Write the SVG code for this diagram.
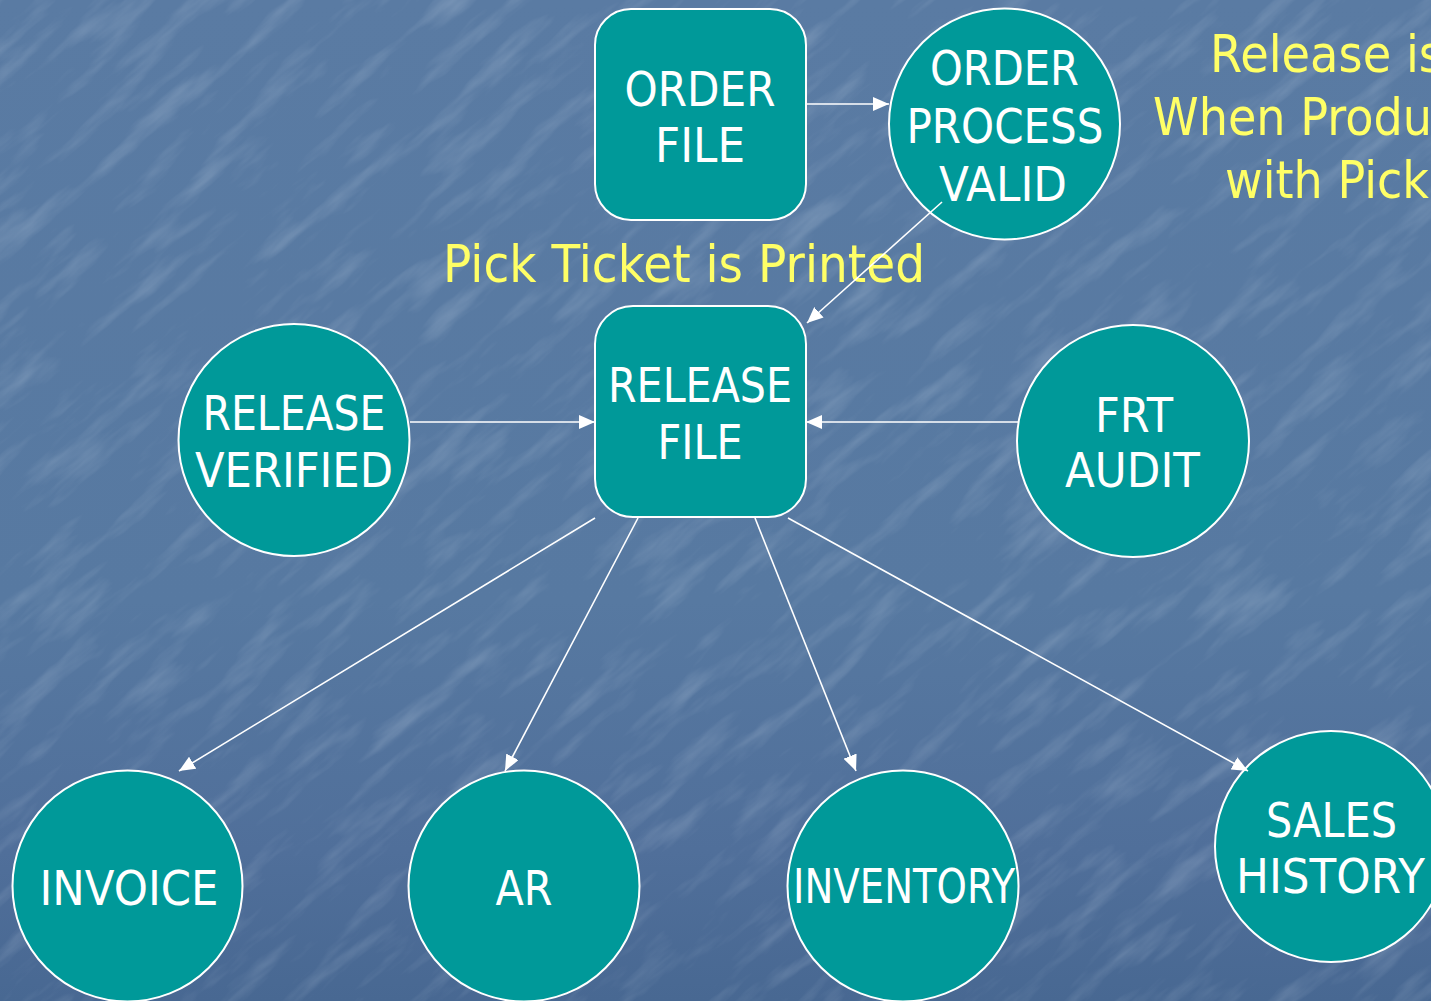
<svg xmlns="http://www.w3.org/2000/svg" width="1431" height="1001" viewBox="0 0 1431 1001">
  <defs>
    <linearGradient id="bg" x1="0" y1="0" x2="0" y2="1">
      <stop offset="0" stop-color="#5a7ba3"/>
      <stop offset="0.6" stop-color="#5779a1"/>
      <stop offset="0.85" stop-color="#506f9a"/>
      <stop offset="1" stop-color="#486892"/>
    </linearGradient>
    <!-- streaky stone texture for the backdrop -->
    <filter id="grain" x="0" y="0" width="100%" height="100%">
      <feTurbulence type="fractalNoise" baseFrequency="0.01 0.05" numOctaves="4" seed="7" result="n"/>
      <feColorMatrix in="n" type="matrix" values="0 0 0 0 0.78  0 0 0 0 0.86  0 0 0 0 0.95  0 0 0 2.0 -1.0"/>
    </filter>
    <marker id="arrow" viewBox="0 0 16 14" refX="16" refY="7" markerWidth="16" markerHeight="14" markerUnits="userSpaceOnUse" orient="auto">
      <path d="M0,0 L16,7 L0,14 Z" fill="#ffffff"/>
    </marker>
    <style>
      .node { fill: #009999; stroke: #ffffff; stroke-width: 2; }
      .lbl { font-family: "DejaVu Sans", "Liberation Sans", sans-serif; font-size: 48px; fill: #ffffff; text-anchor: middle; }
      .note { font-family: "DejaVu Sans", "Liberation Sans", sans-serif; font-size: 51px; fill: #ffff66; }
      .edge { stroke: #ffffff; stroke-width: 1.6; fill: none; marker-end: url(#arrow); }
    </style>
  </defs>

  <!-- backdrop -->
  <rect x="0" y="0" width="1431" height="1001" fill="url(#bg)"/>
  <g transform="rotate(-40 715 500)" opacity="0.22">
    <rect x="-400" y="-400" width="2300" height="1800" filter="url(#grain)"/>
  </g>

  <!-- annotations -->
  <g id="notes">
    <text class="note" x="443" y="282" textLength="482" lengthAdjust="spacingAndGlyphs">Pick Ticket is Printed</text>
    <text class="note" x="1210" y="72" textLength="233" lengthAdjust="spacingAndGlyphs">Release is</text>
    <text class="note" x="1153" y="135" textLength="279" lengthAdjust="spacingAndGlyphs">When Produ</text>
    <text class="note" x="1225" y="198" textLength="204" lengthAdjust="spacingAndGlyphs">with Pick</text>
  </g>

  <g id="order-file">
    <rect class="node" x="595" y="9" width="211" height="211" rx="36"/>
    <text class="lbl" x="700" y="106" textLength="151" lengthAdjust="spacingAndGlyphs">ORDER</text>
    <text class="lbl" x="700" y="162" textLength="90" lengthAdjust="spacingAndGlyphs">FILE</text>
  </g>

  <g id="order-process-valid">
    <ellipse class="node" cx="1004.5" cy="124" rx="115.5" ry="115.5"/>
    <text class="lbl" x="1004.5" y="85" textLength="149" lengthAdjust="spacingAndGlyphs">ORDER</text>
    <text class="lbl" x="1005" y="143" textLength="197" lengthAdjust="spacingAndGlyphs">PROCESS</text>
    <text class="lbl" x="1003" y="201" textLength="128" lengthAdjust="spacingAndGlyphs">VALID</text>
  </g>

  <g id="release-file">
    <rect class="node" x="595" y="306" width="211" height="211" rx="38"/>
    <text class="lbl" x="700" y="402" textLength="184" lengthAdjust="spacingAndGlyphs">RELEASE</text>
    <text class="lbl" x="700" y="459" textLength="85" lengthAdjust="spacingAndGlyphs">FILE</text>
  </g>

  <g id="release-verified">
    <ellipse class="node" cx="294" cy="440" rx="115.5" ry="116"/>
    <text class="lbl" x="294" y="430" textLength="183" lengthAdjust="spacingAndGlyphs">RELEASE</text>
    <text class="lbl" x="294" y="487" textLength="198" lengthAdjust="spacingAndGlyphs">VERIFIED</text>
  </g>

  <g id="frt-audit">
    <ellipse class="node" cx="1133" cy="441" rx="116" ry="116"/>
    <text class="lbl" x="1134" y="432" textLength="78" lengthAdjust="spacingAndGlyphs">FRT</text>
    <text class="lbl" x="1132.5" y="487" textLength="135" lengthAdjust="spacingAndGlyphs">AUDIT</text>
  </g>

  <g id="invoice">
    <ellipse class="node" cx="127.5" cy="886" rx="115" ry="115.5"/>
    <text class="lbl" x="129" y="905" textLength="179" lengthAdjust="spacingAndGlyphs">INVOICE</text>
  </g>

  <g id="ar">
    <ellipse class="node" cx="524" cy="886" rx="115.5" ry="115.5"/>
    <text class="lbl" x="524" y="905" textLength="57" lengthAdjust="spacingAndGlyphs">AR</text>
  </g>

  <g id="inventory">
    <ellipse class="node" cx="903" cy="886" rx="115.5" ry="115.5"/>
    <text class="lbl" x="904" y="903" textLength="222" lengthAdjust="spacingAndGlyphs">INVENTORY</text>
  </g>

  <g id="sales-history">
    <ellipse class="node" cx="1331" cy="846.5" rx="116" ry="115.5"/>
    <text class="lbl" x="1331.5" y="837" textLength="131" lengthAdjust="spacingAndGlyphs">SALES</text>
    <text class="lbl" x="1330.5" y="893" textLength="189" lengthAdjust="spacingAndGlyphs">HISTORY</text>
  </g>

  <!-- connectors, drawn over the nodes -->
  <g id="connectors">
    <line class="edge" x1="806" y1="104" x2="889" y2="104"/>
    <line class="edge" x1="942" y1="202" x2="807" y2="323"/>
    <line class="edge" x1="410" y1="422" x2="595" y2="422"/>
    <line class="edge" x1="1018" y1="422" x2="806" y2="422"/>
    <line class="edge" x1="595" y1="518" x2="179" y2="771"/>
    <line class="edge" x1="638" y1="518" x2="505" y2="771"/>
    <line class="edge" x1="755" y1="518" x2="856" y2="771"/>
    <line class="edge" x1="788" y1="518" x2="1248" y2="771"/>
  </g>
</svg>
